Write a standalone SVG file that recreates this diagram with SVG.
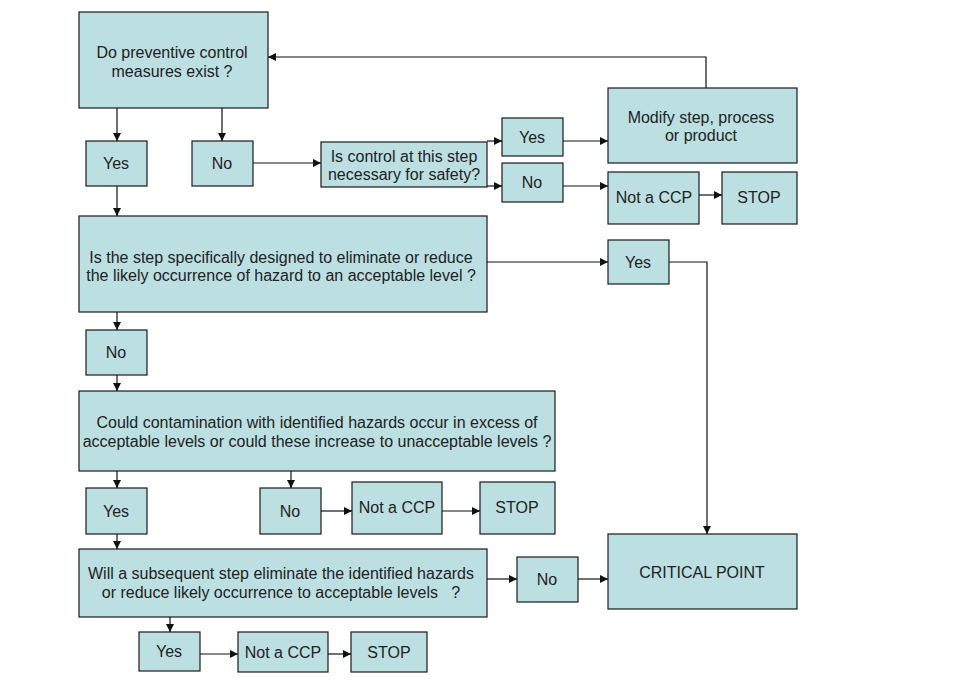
<svg xmlns="http://www.w3.org/2000/svg" width="960" height="690" viewBox="0 0 960 690">
<style>
.b{fill:#bcdfe2;stroke:#1a1a1a;stroke-width:1.2}
.t{font-family:"Liberation Sans",Arial,sans-serif;font-size:16px;fill:#222;text-anchor:middle}
.c{fill:none;stroke:#111;stroke-width:1.2;marker-end:url(#a)}
</style>
<defs>
<marker id="a" markerUnits="userSpaceOnUse" markerWidth="9" markerHeight="8" refX="8" refY="4" orient="auto">
<path d="M0,0 L8,4 L0,8 z" fill="#111"/>
</marker>
</defs>
<rect width="960" height="690" fill="#fff"/>
<g id="q1"><rect class="b" x="79" y="12" width="189" height="96"/><text class="t" x="172" y="58">Do preventive control</text><text class="t" x="172" y="77">measures exist ?</text></g>
<g id="yes1"><rect class="b" x="86" y="141" width="61" height="45"/><text class="t" x="116" y="169">Yes</text></g>
<g id="no1"><rect class="b" x="192" y="141" width="61" height="45"/><text class="t" x="222" y="169">No</text></g>
<g id="q1b"><rect class="b" x="321" y="142" width="166" height="45"/><text class="t" x="404" y="162">Is control at this step</text><text class="t" x="404" y="180">necessary for safety?</text></g>
<g id="yes2"><rect class="b" x="502" y="118" width="61" height="38"/><text class="t" x="532" y="143">Yes</text></g>
<g id="no2"><rect class="b" x="502" y="163" width="61" height="39"/><text class="t" x="532" y="188">No</text></g>
<g id="modify"><rect class="b" x="608" y="88" width="189" height="75"/><text class="t" x="701" y="123">Modify step, process</text><text class="t" x="701" y="141">or product</text></g>
<g id="notccp1"><rect class="b" x="608" y="172" width="91" height="52"/><text class="t" x="654" y="203">Not a CCP</text></g>
<g id="stop1"><rect class="b" x="722" y="172" width="75" height="52"/><text class="t" x="759" y="203">STOP</text></g>
<g id="q2"><rect class="b" x="79" y="216" width="408" height="96"/><text class="t" x="281" y="263">Is the step specifically designed to eliminate or reduce</text><text class="t" x="281" y="281">the likely occurrence of hazard to an acceptable level ?</text></g>
<g id="yes3"><rect class="b" x="608" y="240" width="61" height="44"/><text class="t" x="638" y="268">Yes</text></g>
<g id="no3"><rect class="b" x="86" y="330" width="61" height="45"/><text class="t" x="116" y="358">No</text></g>
<g id="q3"><rect class="b" x="79" y="391" width="476" height="80"/><text class="t" x="317" y="428">Could contamination with identified hazards occur in excess of</text><text class="t" x="317" y="447">acceptable levels or could these increase to unacceptable levels ?</text></g>
<g id="yes4"><rect class="b" x="86" y="488" width="61" height="46"/><text class="t" x="116" y="517">Yes</text></g>
<g id="no4"><rect class="b" x="260" y="488" width="61" height="46"/><text class="t" x="290" y="517">No</text></g>
<g id="notccp2"><rect class="b" x="352" y="482" width="90" height="52"/><text class="t" x="397" y="513">Not a CCP</text></g>
<g id="stop2"><rect class="b" x="480" y="482" width="75" height="52"/><text class="t" x="517" y="513">STOP</text></g>
<g id="q4"><rect class="b" x="79" y="549" width="408" height="68"/><text class="t" x="281" y="579">Will a subsequent step eliminate the identified hazards</text><text class="t" x="281" y="598" xml:space="preserve">or reduce likely occurrence to acceptable levels   ?</text></g>
<g id="no5"><rect class="b" x="517" y="557" width="61" height="45"/><text class="t" x="547" y="585">No</text></g>
<g id="critical"><rect class="b" x="608" y="534" width="189" height="75"/><text class="t" x="702" y="578">CRITICAL POINT</text></g>
<g id="yes5"><rect class="b" x="139" y="632" width="61" height="39"/><text class="t" x="169" y="657">Yes</text></g>
<g id="notccp3"><rect class="b" x="238" y="632" width="90" height="40"/><text class="t" x="283" y="658">Not a CCP</text></g>
<g id="stop3"><rect class="b" x="351" y="632" width="76" height="40"/><text class="t" x="389" y="658">STOP</text></g>
<g id="connectors">
<path class="c" d="M117,108 V141"/>
<path class="c" d="M222,108 V141"/>
<path class="c" d="M253,163 H321"/>
<path class="c" d="M487,141 H502"/>
<path class="c" d="M487,186 H502"/>
<path class="c" d="M563,141 H608"/>
<path class="c" d="M563,186 H608"/>
<path class="c" d="M699,195 H722"/>
<path class="c" d="M706,88 V57 H268"/>
<path class="c" d="M117,186 V216"/>
<path class="c" d="M487,262 H608"/>
<path class="c" d="M669,262 H707 V534"/>
<path class="c" d="M117,312 V330"/>
<path class="c" d="M117,375 V391"/>
<path class="c" d="M117,471 V488"/>
<path class="c" d="M291,471 V488"/>
<path class="c" d="M321,511 H352"/>
<path class="c" d="M442,511 H480"/>
<path class="c" d="M117,534 V549"/>
<path class="c" d="M487,579 H517"/>
<path class="c" d="M578,579 H608"/>
<path class="c" d="M170,617 V632"/>
<path class="c" d="M200,654 H238"/>
<path class="c" d="M328,654 H351"/>
</g>
</svg>
